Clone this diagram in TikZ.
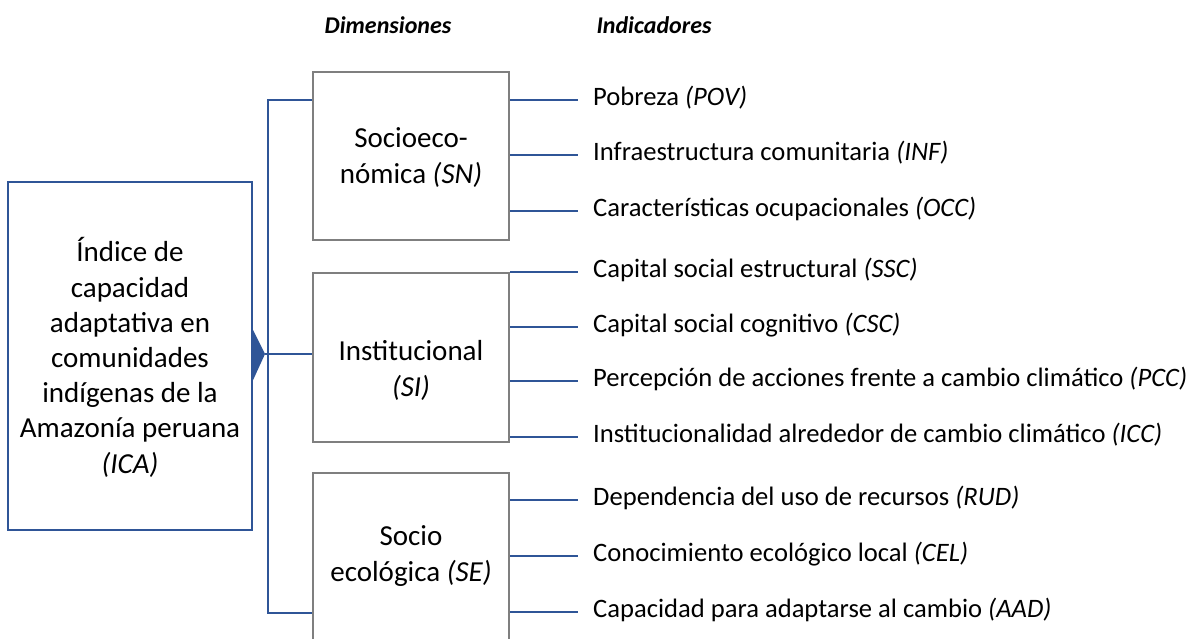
\documentclass[tikz,border=0pt]{standalone}
\usepackage{fontspec}
\setmainfont{Carlito}
\definecolor{lblue}{HTML}{2F5597}
\definecolor{bgray}{HTML}{7F7F7F}
\begin{document}
\begin{tikzpicture}[x=1pt,y=-1pt,
  dimbox/.style={draw=bgray,line width=2.2pt,minimum width=196pt,inner sep=0pt},
  boxtext/.style={anchor=base,align=center,inner sep=0pt,font=\fontsize{29}{35.2}\selectfont},
  ind/.style={anchor=base west,inner sep=0pt,font=\fontsize{26.6}{30}\selectfont},
  link/.style={draw=lblue,line width=1.8pt},
  hdr/.style={anchor=base,font=\fontsize{24}{28}\selectfont\bfseries\itshape,inner sep=0pt}]
\clip (0,0) rectangle (1190,638);
\fill[white] (0,0) rectangle (1190,638);
% headers
\node[hdr] (h1) at (388,33) {Dimensiones};
\node[hdr] (h2) at (654,33) {Indicadores};
% main box
\node[draw=lblue,line width=2.2pt,minimum width=244pt,minimum height=348pt,inner sep=0pt] (ica) at (130,356) {};
\node[boxtext] (icat) at (130,473)
  {Índice de\\capacidad\\adaptativa en\\comunidades\\indígenas de la\\Amazonía peruana\\\textit{(ICA)}};
\fill[lblue] (ica.east |- 0,330) -- (265,354) -- (ica.east |- 0,380) -- cycle;
\coordinate (tri) at (265,354);
% dimension boxes
\node[dimbox,minimum height=168pt] (sn) at (411,156) {};
\node[boxtext] (snt) at (411,183) {Socioeco-\\nómica \textit{(SN)}};
\node[dimbox,minimum height=169pt] (si) at (411,357.5) {};
\node[boxtext] (sit) at (411,396) {Institucional\\\textit{(SI)}};
\node[dimbox,minimum height=200pt] (se) at (411,573) {};
\node[boxtext,font=\fontsize{29}{36}\selectfont] (set) at (411,581) {Socio\\ecológica \textit{(SE)}};
% bracket
\coordinate (bt) at (268,100);
\coordinate (bb) at (268,613);
\draw[link] (sn.west |- bt) -- (bt) -- (bb) -- (se.west |- bb);
\draw[link] (tri) -- (si.west |- tri);
% indicators
\node[ind] (i1) at (593,105) {Pobreza \textit{(POV)}};
\node[ind] (i2) at (593,160) {Infraestructura comunitaria \textit{(INF)}};
\node[ind] (i3) at (593,216) {Características ocupacionales \textit{(OCC)}};
\node[ind] (i4) at (593,277) {Capital social estructural \textit{(SSC)}};
\node[ind] (i5) at (593,332) {Capital social cognitivo \textit{(CSC)}};
\node[ind] (i6) at (593,386) {Percepción de acciones frente a cambio climático \textit{(PCC)}};
\node[ind] (i7) at (593,442) {Institucionalidad alrededor de cambio climático \textit{(ICC)}};
\node[ind] (i8) at (593,505) {Dependencia del uso de recursos \textit{(RUD)}};
\node[ind] (i9) at (593,561) {Conocimiento ecológico local \textit{(CEL)}};
\node[ind] (i10) at (593,617) {Capacidad para adaptarse al cambio \textit{(AAD)}};
\foreach \b/\i in {sn/i1,sn/i2,sn/i3,si/i4,si/i5,si/i6,si/i7,se/i8,se/i9,se/i10}{
  \coordinate (c\i) at ([xshift=-15pt,yshift=5pt]\i.base west);
  \draw[link] (\b.east |- c\i) -- (c\i);
}
\end{tikzpicture}
\end{document}
